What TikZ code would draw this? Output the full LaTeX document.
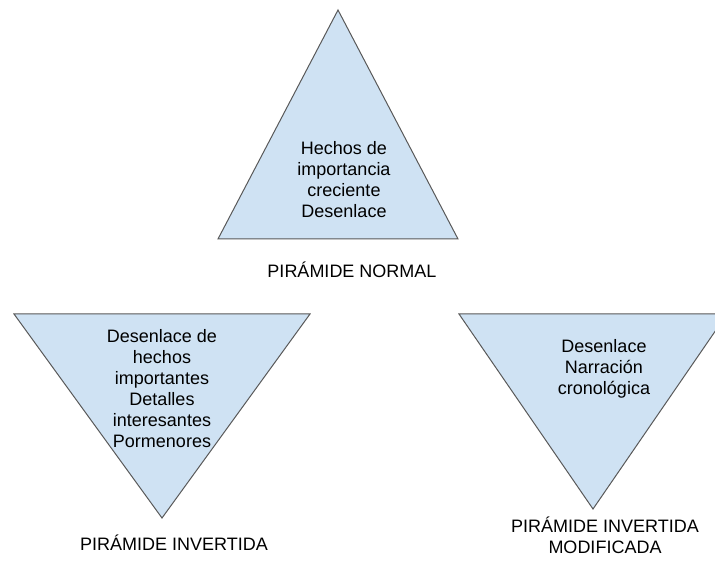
\documentclass[tikz,border=0pt]{standalone}
\usepackage{fontspec}
\setmainfont{Liberation Sans}
\definecolor{relleno}{HTML}{CFE2F3}
\definecolor{borde}{HTML}{595959}
\tikzset{
  piramide/.style={draw=borde, fill=relleno, line width=1pt},
  texto/.style={align=center, inner sep=0pt, font=\fontsize{18}{21}\selectfont},
}
\begin{document}
\begin{tikzpicture}[x=1pt,y=-1pt]
  \useasboundingbox (0,0) rectangle (715,561);
  % vertices
  \coordinate (n1) at (338,10);
  \coordinate (n2) at (218,239);
  \coordinate (n3) at (458,239);
  \coordinate (i1) at (14,314);
  \coordinate (i2) at (310,314);
  \coordinate (i3) at (162,518);
  \coordinate (m1) at (459,314);
  \coordinate (m2) at (727,314);
  \coordinate (m3) at (593,509);
  % triangles
  \draw[piramide] (n1) -- (n2) -- (n3) -- cycle;
  \draw[piramide] (i1) -- (i2) -- (i3) -- cycle;
  \draw[piramide] (m1) -- (m2) -- (m3) -- cycle;
  % texts
  \node[texto] (normal) at (344,180) {Hechos de\\importancia\\creciente\\Desenlace};
  \node[texto] (invertida) at (162,389) {Desenlace de\\hechos\\importantes\\Detalles\\interesantes\\Pormenores};
  \node[texto] (modificada) at (604,369) {Desenlace\\Narración\\cronológica};
  \node[texto, anchor=base] (lnormal) at (352,278) {PIRÁMIDE NORMAL};
  \node[texto, anchor=base] (linvertida) at (174,550) {PIRÁMIDE INVERTIDA};
  \node[texto, anchor=south] (lmodificada) at (605,554) {PIRÁMIDE INVERTIDA\\MODIFICADA};
\end{tikzpicture}
\end{document}
